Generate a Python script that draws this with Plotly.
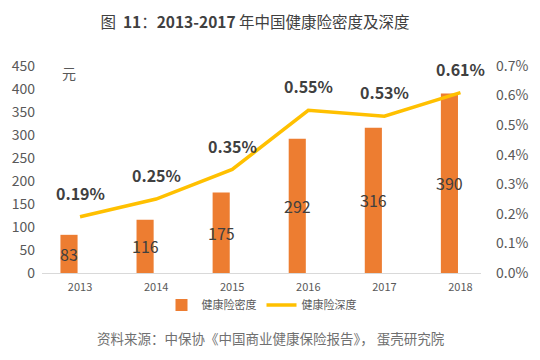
import plotly.graph_objects as go

years = ["2013", "2014", "2015", "2016", "2017", "2018"]
density = [83, 116, 175, 292, 316, 390]          # 元
depth = [0.19, 0.25, 0.35, 0.55, 0.53, 0.61]     # %
left_ticks = [0, 50, 100, 150, 200, 250, 300, 350, 400, 450]
right_ticks = [0.0, 0.1, 0.2, 0.3, 0.4, 0.5, 0.6, 0.7]

FONT = "Noto Sans CJK SC"
ORANGE = "#ED7D31"
YELLOW = "#FFC000"
TXT = "#404040"
GRAY = "#595959"

idx = list(range(len(years)))
BAR_W = 0.225
BAR_SHIFT = -0.145

fig = go.Figure()
fig.add_trace(go.Bar(
    x=idx, y=density, name="健康险密度",
    marker=dict(color=ORANGE, line=dict(width=0)),
    width=BAR_W, offset=BAR_SHIFT - BAR_W / 2, yaxis="y",
))
fig.add_trace(go.Scatter(
    x=idx, y=depth, name="健康险深度", mode="lines",
    line=dict(color=YELLOW, width=3.5), yaxis="y2",
))

W, H = 540, 360
L, R, T, B = 42, 57, 66, 87
pw, ph = W - L - R, H - T - B

ann = []
for i, v in zip(idx, density):
    ann.append(dict(x=i + BAR_SHIFT, y=v / 2, xref="x", yref="y", text=str(v), showarrow=False,
                    xanchor="center", yanchor="middle",
                    font=dict(family=FONT, size=16, color=TXT)))
for i, v in zip(idx, depth):
    ann.append(dict(x=i, y=v, xref="x", yref="y2", text=f"<b>{v:.2f}%</b>", showarrow=False,
                    xanchor="center", yanchor="middle",
                    yshift=24, font=dict(family=FONT, size=16, color=TXT)))
ann.append(dict(x=(69 - L) / pw, y=1 - (73 - T) / ph, xref="paper", yref="paper", text="元",
                showarrow=False, xanchor="center", yanchor="middle",
                font=dict(family=FONT, size=14, color=GRAY)))
ann.append(dict(x=(272 - L) / pw, y=1 - (338 - T) / ph, xref="paper", yref="paper",
                text="资料来源：中保协《中国商业健康保险报告》， 蛋壳研究院",
                showarrow=False, xanchor="center", yanchor="middle",
                font=dict(family=FONT, size=13.5, color="#707070")))

fig.update_layout(
    width=W, height=H,
    margin=dict(l=L, r=R, t=T, b=B),
    paper_bgcolor="white", plot_bgcolor="white",
    title=dict(text="图  <b>11</b>：<b>2013-2017</b> 年中国健康险密度及深度",
               x=255 / W, xanchor="center", y=1 - 23 / H, yanchor="middle",
               font=dict(family=FONT, size=15.5, color=TXT)),
    xaxis=dict(range=[-0.5, 5.27], tickvals=idx, ticktext=years, showgrid=False,
               zeroline=False, showline=True, linecolor="#D9D9D9", linewidth=1,
               ticklabelstandoff=4,
               tickfont=dict(family=FONT, size=11, color=GRAY), ticks=""),
    yaxis=dict(range=[0, 450], tickvals=left_ticks, showgrid=False, zeroline=False,
               showline=False, ticks="", ticklabelstandoff=6,
               tickfont=dict(family=FONT, size=14, color=GRAY)),
    yaxis2=dict(range=[0, 0.7], tickvals=right_ticks,
                ticktext=[f"{t:.1f}%" for t in right_ticks],
                overlaying="y", side="right", showgrid=False, zeroline=False,
                showline=False, ticks="", ticklabelstandoff=14,
                tickfont=dict(family=FONT, size=14, color=GRAY)),
    legend=dict(orientation="h", x=0.5, xanchor="center", y=1 - (305 - T) / ph,
                yanchor="middle", font=dict(family=FONT, size=11, color=GRAY)),
    annotations=ann,
    showlegend=True,
)
fig.write_html("out.html", config={"displayModeBar": False},
               post_script="document.body.style.margin='0';")
